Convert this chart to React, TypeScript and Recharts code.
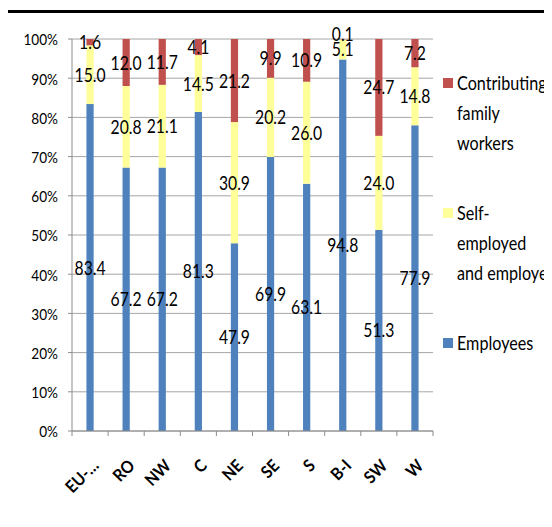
import React from 'react';
import { BarChart, Bar, XAxis, YAxis, CartesianGrid, LabelList } from 'recharts';

const categories = ['EU-…', 'RO', 'NW', 'C', 'NE', 'SE', 'S', 'B-I', 'SW', 'W'];
const employees = [83.4, 67.2, 67.2, 81.3, 47.9, 69.9, 63.1, 94.8, 51.3, 77.9];
const selfEmployed = [15.0, 20.8, 21.1, 14.5, 30.9, 20.2, 26.0, 5.1, 24.0, 14.8];
const contributing = [1.6, 12.0, 11.7, 4.1, 21.2, 9.9, 10.9, 0.1, 24.7, 7.2];
const yTickPercents = [0, 10, 20, 30, 40, 50, 60, 70, 80, 90, 100];

const series = [
  { key: 'employees', name: 'Employees', color: '#4F81BD', legendLines: ['Employees'] },
  { key: 'selfEmployed', name: 'Self-employed and employers', color: '#FFFF99', legendLines: ['Self-', 'employed', 'and employers'] },
  { key: 'contributing', name: 'Contributing family workers', color: '#C0504D', legendLines: ['Contributing', 'family', 'workers'] },
];

const data = categories.map((c, i) => ({
  category: c,
  employees: employees[i],
  selfEmployed: selfEmployed[i],
  contributing: contributing[i],
}));

const FONT = "Lato, 'Noto Sans', sans-serif";
const AXIS = '#8C8C8C';
const GRID = '#A6A6A6';
const SQUEEZE = 0.85;

const CategoryTick = (props: any) => {
  const { x, y, payload, index, visibleTicksCount, width } = props;
  const band = width / visibleTicksCount;
  const left = x - band / 2;
  const right = x + band / 2;
  return (
    <g>
      <line x1={left} y1={y} x2={left} y2={y + 5} stroke={AXIS} strokeWidth={1} />
      {index === visibleTicksCount - 1 && (
        <line x1={right} y1={y} x2={right} y2={y + 5} stroke={AXIS} strokeWidth={1} />
      )}
      <text
        transform={`translate(${x + 5},${y + 31}) rotate(-45) scale(0.92,1)`}
        textAnchor="end"
        dominantBaseline="central"
        fontFamily={FONT}
        fontWeight="bold"
        fontSize={17}
        fill="#000"
      >
        {payload.value}
      </text>
    </g>
  );
};

const YTick = (props: any) => {
  const { x, y, payload } = props;
  return (
    <text
      transform={`translate(${x},${y}) scale(${SQUEEZE},1)`}
      textAnchor="end"
      dominantBaseline="central"
      fontFamily={FONT}
      fontSize={16}
      fill="#000"
    >
      {`${Math.round(payload.value * 100)}%`}
    </text>
  );
};

const SegmentLabel = (props: any) => {
  const { x, y, width, height, value } = props;
  if (value == null) return null;
  // very thin segments: lift the label a little so it clears its neighbour
  const lift = height < 4 ? 5 : 0;
  return (
    <text
      transform={`translate(${x + width / 2},${y + height / 2 - lift}) scale(${SQUEEZE},1)`}
      textAnchor="middle"
      dominantBaseline="central"
      fontFamily={FONT}
      fontSize={18.5}
      fill="#000"
    >
      {Number(value).toFixed(1)}
    </text>
  );
};

export default function App() {
  const legendOrder = [...series].reverse();
  return (
    <div
      style={{
        position: 'relative',
        width: 552,
        height: 527,
        marginLeft: -8,
        marginTop: -8,
        overflow: 'hidden',
        background: '#fff',
      }}
    >
      <div
        style={{
          position: 'absolute',
          left: 5,
          top: 10,
          width: 700,
          height: 700,
          border: '3px solid #000',
          boxSizing: 'border-box',
        }}
      />
      <div style={{ position: 'absolute', left: 0, top: 0 }}>
        <BarChart
          width={552}
          height={527}
          data={data}
          stackOffset="expand"
          barCategoryGap="60%"
          margin={{ top: 39, right: 119, bottom: 0, left: 0 }}
        >
          <CartesianGrid vertical={false} stroke={GRID} strokeWidth={1} />
          <XAxis
            dataKey="category"
            height={96}
            interval={0}
            stroke={AXIS}
            tickLine={false}
            tickSize={0}
            tickMargin={0}
            tick={<CategoryTick />}
          />
          <YAxis
            width={72}
            domain={[0, 1]}
            ticks={yTickPercents.map((t) => t / 100)}
            stroke={AXIS}
            tickSize={4}
            tickMargin={10}
            tick={<YTick />}
          />
          {series.map((s) => (
            <Bar
              key={s.key}
              dataKey={s.key}
              name={s.name}
              stackId="a"
              fill={s.color}
              isAnimationActive={false}
            >
              <LabelList dataKey={s.key} content={<SegmentLabel />} />
            </Bar>
          ))}
        </BarChart>
      </div>
      <div style={{ position: 'absolute', left: 443, top: 68, width: 200, fontFamily: FONT, fontSize: 19, color: '#000' }}>
        {legendOrder.map((s) => (
          <div key={s.key} style={{ position: 'relative', height: 130 }}>
            <div style={{ position: 'absolute', left: 0, top: 10, width: 10, height: 10, background: s.color }} />
            <div
              style={{
                position: 'absolute',
                left: 14,
                top: 0,
                lineHeight: '30px',
                whiteSpace: 'nowrap',
                transform: `scaleX(${SQUEEZE})`,
                transformOrigin: 'left top',
              }}
            >
              {s.legendLines.map((l, i) => (
                <div key={i}>{l}</div>
              ))}
            </div>
          </div>
        ))}
      </div>
    </div>
  );
}
